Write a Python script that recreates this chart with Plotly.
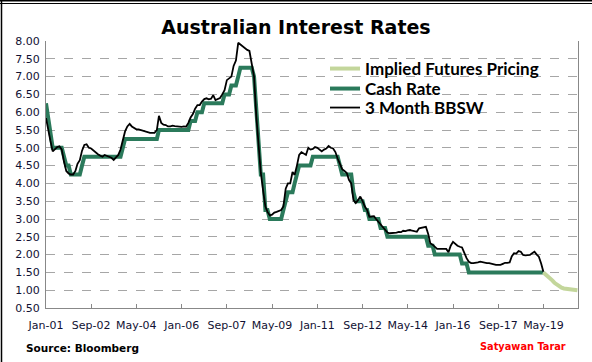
import pandas as pd
import plotly.graph_objects as go

# ---- data (monthly, from Jan-2001) ----
bbsw = [
    # 2001
    5.84, 5.45, 5.20, 4.90, 4.95, 5.02, 5.04, 4.95, 4.60, 4.35, 4.28, 4.25,
    # 2002
    4.25, 4.35, 4.55, 4.65, 4.92, 5.08, 5.10, 5.00, 4.98, 4.92, 4.88, 4.82,
    # 2003
    4.78, 4.75, 4.80, 4.78, 4.75, 4.72, 4.66, 4.72, 4.80, 4.95, 5.20, 5.46,
    # 2004
    5.60, 5.67, 5.60, 5.55, 5.52, 5.52, 5.50, 5.47, 5.45, 5.43, 5.42, 5.42,
    # 2005
    5.42, 5.50, 5.90, 5.70, 5.65, 5.64, 5.60, 5.60, 5.62, 5.61, 5.60, 5.60,
    # 2006
    5.59, 5.60, 5.59, 5.70, 5.85, 5.95, 6.10, 6.20, 6.20, 6.30, 6.37, 6.39,
    # 2007
    6.36, 6.38, 6.48, 6.34, 6.38, 6.40, 6.50, 6.62, 6.90, 6.95, 7.00, 7.30,
    # 2008
    7.45, 7.95, 7.90, 7.83, 7.80, 7.75, 7.72, 7.30, 7.00, 5.90, 5.00, 4.30,
    # 2009
    3.80, 3.35, 3.20, 3.10, 3.12, 3.18, 3.20, 3.22, 3.25, 3.35, 3.85, 4.00,
    # 2010
    4.00, 4.32, 4.24, 4.50, 4.80, 4.88, 4.85, 4.80, 5.00, 4.95, 4.97, 5.02,
    # 2011
    5.00, 4.95, 4.90, 4.95, 4.98, 5.05, 5.00, 4.98, 4.88, 4.70, 4.57, 4.40,
    # 2012
    4.35, 4.29, 4.10, 4.00, 3.53, 3.45, 3.53, 3.63, 3.50, 3.35, 3.25, 3.06,
    # 2013
    3.07, 3.08, 3.00, 2.92, 2.85, 2.78, 2.70, 2.62, 2.60, 2.60, 2.60, 2.62,
    # 2014
    2.64, 2.63, 2.67, 2.66, 2.68, 2.69, 2.67, 2.65, 2.64, 2.74, 2.76, 2.78,
    # 2015
    2.78, 2.58, 2.32, 2.28, 2.22, 2.16, 2.16, 2.16, 2.16, 2.16, 2.07, 2.25,
    # 2016
    2.36, 2.30, 2.25, 2.22, 2.20, 2.05, 1.90, 1.80, 1.76, 1.76, 1.76, 1.78,
    # 2017
    1.80, 1.78, 1.76, 1.76, 1.76, 1.74, 1.72, 1.71, 1.71, 1.71, 1.74, 1.77,
    # 2018
    1.77, 1.78, 1.95, 2.04, 2.03, 2.10, 2.08, 1.99, 1.98, 1.98, 1.99, 2.04,
    # 2019
    2.08, 2.00, 1.94, 1.75, 1.52,
]

cash = [
    # 2001
    6.25, 5.75, 5.50, 5.00, 5.00, 5.00, 5.00, 5.00, 4.75, 4.50, 4.50, 4.25,
    # 2002
    4.25, 4.25, 4.25, 4.25, 4.50, 4.75, 4.75, 4.75, 4.75, 4.75, 4.75, 4.75,
    # 2003
    4.75, 4.75, 4.75, 4.75, 4.75, 4.75, 4.75, 4.75, 4.75, 4.75, 5.00, 5.25,
    # 2004
    5.25, 5.25, 5.25, 5.25, 5.25, 5.25, 5.25, 5.25, 5.25, 5.25, 5.25, 5.25,
    # 2005
    5.25, 5.25, 5.50, 5.50, 5.50, 5.50, 5.50, 5.50, 5.50, 5.50, 5.50, 5.50,
    # 2006
    5.50, 5.50, 5.50, 5.50, 5.75, 5.75, 5.75, 6.00, 6.00, 6.00, 6.25, 6.25,
    # 2007
    6.25, 6.25, 6.25, 6.25, 6.25, 6.25, 6.25, 6.50, 6.50, 6.50, 6.75, 6.75,
    # 2008
    6.75, 7.00, 7.25, 7.25, 7.25, 7.25, 7.25, 7.25, 7.00, 6.00, 5.25, 4.25,
    # 2009
    4.25, 3.25, 3.25, 3.00, 3.00, 3.00, 3.00, 3.00, 3.00, 3.25, 3.50, 3.75,
    # 2010
    3.75, 3.75, 4.00, 4.25, 4.50, 4.50, 4.50, 4.50, 4.50, 4.50, 4.75, 4.75,
    # 2011
    4.75, 4.75, 4.75, 4.75, 4.75, 4.75, 4.75, 4.75, 4.75, 4.75, 4.50, 4.25,
    # 2012
    4.25, 4.25, 4.25, 4.25, 3.75, 3.50, 3.50, 3.50, 3.50, 3.25, 3.25, 3.00,
    # 2013
    3.00, 3.00, 3.00, 3.00, 2.75, 2.75, 2.75, 2.50, 2.50, 2.50, 2.50, 2.50,
    # 2014
    2.50, 2.50, 2.50, 2.50, 2.50, 2.50, 2.50, 2.50, 2.50, 2.50, 2.50, 2.50,
    # 2015
    2.50, 2.25, 2.25, 2.25, 2.00, 2.00, 2.00, 2.00, 2.00, 2.00, 2.00, 2.00,
    # 2016
    2.00, 2.00, 2.00, 2.00, 1.75, 1.75, 1.75, 1.50, 1.50, 1.50, 1.50, 1.50,
    # 2017
    1.50, 1.50, 1.50, 1.50, 1.50, 1.50, 1.50, 1.50, 1.50, 1.50, 1.50, 1.50,
    # 2018
    1.50, 1.50, 1.50, 1.50, 1.50, 1.50, 1.50, 1.50, 1.50, 1.50, 1.50, 1.50,
    # 2019
    1.50, 1.50, 1.50, 1.50, 1.50,
]

# implied futures pricing, monthly from May-2019
implied_start = "2019-05-01"
implied = [1.50, 1.45, 1.40, 1.35, 1.27, 1.20, 1.15, 1.10, 1.07, 1.05,
           1.04, 1.03, 1.02, 1.01, 1.00, 1.00]

tick_dates = ["2001-01-01", "2002-09-01", "2004-05-01", "2006-01-01",
              "2007-09-01", "2009-05-01", "2011-01-01", "2012-09-01",
              "2014-05-01", "2016-01-01", "2017-09-01", "2019-05-01"]
tick_labels = ["Jan-01", "Sep-02", "May-04", "Jan-06", "Sep-07", "May-09",
               "Jan-11", "Sep-12", "May-14", "Jan-16", "Sep-17", "May-19"]

dates_hist = pd.date_range("2001-01-01", periods=len(bbsw), freq="MS")
dates_cash = pd.date_range("2001-01-01", periods=len(cash), freq="MS")
dates_impl = pd.date_range(implied_start, periods=len(implied), freq="MS")

L, R, T, B = 46, 14, 41, 54
W, H = 592, 362
pw, ph = W - L - R, H - T - B


def px_x(p):
    return (p - L) / pw


def px_y(p):
    return (H - B - p) / ph


fig = go.Figure()
fig.add_trace(go.Scatter(x=dates_cash, y=cash, mode="lines", name="Cash Rate",
                         line=dict(color="#2B7A5B", width=4), legend="legend2"))
fig.add_trace(go.Scatter(x=dates_impl, y=implied, mode="lines",
                         name="Implied Futures Pricing",
                         line=dict(color="#C3D69B", width=4), legend="legend"))
fig.add_trace(go.Scatter(x=dates_hist, y=bbsw, mode="lines", name="3 Month BBSW",
                         line=dict(color="#000000", width=1.8), legend="legend3"))

leg_font = dict(family="Lato", size=17, color="#000000", weight="bold")
leg_common = dict(x=px_x(325), xanchor="left", yanchor="middle",
                  bgcolor="rgba(0,0,0,0)", borderwidth=0, font=leg_font)

fig.update_layout(
    width=W, height=H,
    margin=dict(l=L, r=R, t=T, b=B),
    paper_bgcolor="white", plot_bgcolor="white",
    title=dict(text="<b>Australian Interest Rates</b>", x=0.5, xref="container",
               xanchor="center", y=1 - 27 / H, yanchor="middle",
               font=dict(family="DejaVu Sans", size=19, color="#000000")),
    showlegend=True,
    legend=dict(y=px_y(69), **leg_common),
    legend2=dict(y=px_y(89), **leg_common),
    legend3=dict(y=px_y(108), **leg_common),
    xaxis=dict(type="date", range=["2001-01-01", "2020-08-09"],
               tickvals=tick_dates, ticktext=tick_labels,
               showgrid=False, zeroline=False,
               showline=True, linecolor="#888888", linewidth=1,
               ticks="inside", ticklen=4, tickcolor="#888888",
               ticklabelstandoff=7,
               tickfont=dict(family="DejaVu Sans", size=11, color="#111133")),
    yaxis=dict(range=[0.5, 8.0], dtick=0.5, tick0=0.5, tickformat=".2f",
               showgrid=True, gridcolor="#A6A6A6", griddash="dash", gridwidth=1,
               zeroline=False, showline=True, mirror=True,
               linecolor="#888888", linewidth=1, ticks="",
               ticklabelstandoff=3,
               tickfont=dict(family="DejaVu Sans", size=11, color="#111133")),
)

fig.add_annotation(text="<b>Source: Bloomberg</b>", xref="paper", yref="paper",
                   x=px_x(24), y=px_y(348), xanchor="left",
                   yanchor="middle", showarrow=False,
                   font=dict(family="DejaVu Sans", size=10.5, color="#000000"))
fig.add_annotation(text="<b>Satyawan Tarar</b>", xref="paper", yref="paper",
                   x=px_x(568), y=px_y(346), xanchor="right",
                   yanchor="middle", showarrow=False,
                   font=dict(family="DejaVu Sans", size=9.8, color="#FF0000"))

# chart frame (left edge and double top line)
fig.add_shape(type="line", xref="paper", yref="paper", x0=px_x(1.5), x1=px_x(1.5),
              y0=px_y(0), y1=px_y(H), line=dict(color="#000000", width=1.5))
fig.add_shape(type="line", xref="paper", yref="paper", x0=px_x(0), x1=px_x(W),
              y0=px_y(0.8), y1=px_y(0.8), line=dict(color="#000000", width=1.5))
fig.add_shape(type="line", xref="paper", yref="paper", x0=px_x(0), x1=px_x(W),
              y0=px_y(3.5), y1=px_y(3.5), line=dict(color="#000000", width=1))

fig.write_html("out.html", config={"displayModeBar": False},
               post_script="document.body.style.margin='0';document.body.style.overflow='hidden';")
